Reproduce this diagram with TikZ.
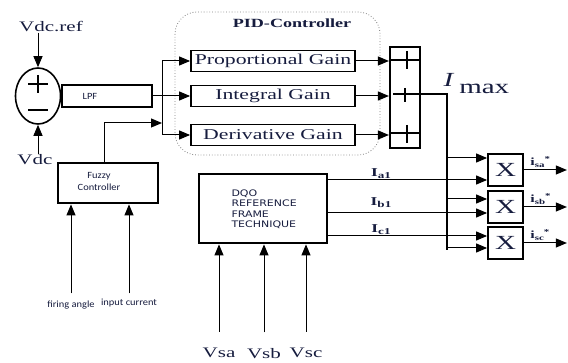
\documentclass[tikz,border=0pt]{standalone}
\usepackage{fontspec}
\setmainfont{Liberation Serif}
\newfontfamily\wserif[FakeStretch=1.45]{Liberation Serif}
\newfontfamily\csans[FakeStretch=1.1]{Carlito}
\newfontfamily\dsans[FakeStretch=1.22]{DejaVu Sans}
\usetikzlibrary{arrows.meta,shapes.geometric}
\definecolor{ink}{RGB}{22,28,62}
\newcommand{\fsz}[1]{\fontsize{#1}{#1}\selectfont}
\tikzset{
  blk/.style={draw,line width=1.8pt,inner sep=0pt},
  heavy/.style={blk,line width=2.8pt},
  gain/.style={blk,minimum width=164,minimum height=21,font=\wserif\fsz{15}},
  mult/.style={blk,minimum width=35,minimum height=32,font=\wserif\fsz{20}},
  sig/.style={-{Triangle[length=11pt,width=9pt]}},
  lbl/.style={inner sep=0pt,font=\wserif\fsz{14.5}},
  cur/.style={inner sep=0pt,font=\wserif\bfseries\fsz{12}},
  note/.style={inner sep=0pt,font=\csans\fsz{9.5}},
}
\begin{document}
\begin{tikzpicture}[x=1pt,y=-1pt,line width=1pt,every node/.append style={text=ink}]
\useasboundingbox (0,0) rectangle (568,363);
% PID group
\draw[gray,dotted,line width=0.8pt,rounded corners=22] (175,12) rectangle (380,155);
\node[inner sep=0pt,font=\wserif\bfseries\fsz{12.5}] (pidl) at (292,23) {PID-Controller};
% error summing point
\node[lbl] (vref) at (51,27) {Vdc.ref};
\node[draw,ellipse,line width=1.6pt,minimum width=45,minimum height=56,inner sep=0pt] (sum) at (38,96) {};
\draw[line width=2pt] (sum.center) ++(-10,-12) -- ++(20,0) (sum.center) ++(0,-21) -- ++(0,18);
\draw[line width=2.4pt] (sum.center) ++(-10,14) -- ++(20,0);
\node[lbl] (vdc) at (35,160) {Vdc};
\draw[sig] (sum.north |- vref.south) -- (sum.north);
\draw[sig] (sum.south |- vdc.north) -- (sum.south);
% filter
\node[heavy,minimum width=90,minimum height=22] (lpf) at (107,96) {};
\node[note,font=\csans\fsz{9.5}] (lpft) at (90,96) {LPF};
\draw (sum.east) -- (lpf.west);
% gains
\node[gain] (prop) at (273,61) {Proportional Gain};
\node[gain] (integ) at (273,96) {Integral Gain};
\node[gain] (deriv) at (273,135) {Derivative Gain};
% adder
\node[blk,line width=2.2pt,minimum width=30,minimum height=101] (sb) at (405,97.5) {};
\draw[line width=1.8pt] (sb.west |- 0,60) -- (sb.east |- 0,60) (sb.west |- 0,133) -- (sb.east |- 0,133);
\draw[line width=1.8pt] (407,51) -- (407,69) (405,88) -- (405,102) (407,125) -- (407,143);
\coordinate (br) at (162,96);
\draw (lpf.east) -- (br);
\draw (br |- prop.west) -- (br |- deriv.west);
\foreach \g in {prop,integ,deriv} {
  \draw[sig] (br |- \g.west) -- (\g.west);
  \draw[sig] (\g.east) -- (sb.west |- \g.east);
}
% current magnitude
\coordinate (imx) at (447,94);
\coordinate (imb) at (447,250);
\draw[line width=1.2pt] ([xshift=-12pt]sb.center |- imx) -- (imx) -- (imb);
\node[anchor=west,inner sep=0pt,font=\wserif\fsz{20}] (imaxl) at (443,84) {\textit{I}\hspace{5pt}\raisebox{-7pt}{max}};
% multipliers
\node[mult] (m1) at (505.5,170) {X};
\node[mult] (m2) at (505.5,207) {X};
\node[mult] (m3) at (505.5,243) {X};
\foreach \m/\y in {m1/158,m2/199,m3/248}
  \draw[sig] (imx |- 0,\y) -- (\m.west |- 0,\y);
% reference frame block
\node[heavy,minimum width=128,minimum height=69] (dqo) at (263,208.5) {};
\node[anchor=west,align=left,inner sep=0pt,font=\dsans\fontsize{9}{10.5}\selectfont] (dqot) at (231,209) {DQO\\REFERENCE\\FRAME\\TECHNIQUE};
\foreach \m/\y in {m1/180,m2/213,m3/236}
  \draw[sig] (dqo.east |- 0,\y) -- (\m.west |- 0,\y);
\node[cur] (ia) at (381,174) {I\raisebox{-2pt}{\fsz{9}a1}};
\node[cur] (ib) at (381,203) {I\raisebox{-2pt}{\fsz{9}b1}};
\node[cur] (ic) at (381,230) {I\raisebox{-2pt}{\fsz{9}c1}};
\foreach \m/\s in {m1/sa,m2/sb,m3/sc} {
  \draw[sig] (\m.east) -- ++(43,0);
  \node[cur,font=\wserif\bfseries\fsz{11},anchor=south west] (i\s) at ([xshift=6pt,yshift=2pt]\m.east) {i\raisebox{-2pt}{\fsz{7.5}\s}\raisebox{4pt}{\fsz{7.5}*}};
}
\node[lbl] (vsa) at (219,353) {Vsa};
\node[lbl] (vsb) at (264,354) {Vsb};
\node[lbl] (vsc) at (306,353) {Vsc};
\foreach \v in {vsa,vsb,vsc}
  \draw[sig] ([yshift=16pt]\v.north) -- (\v.north |- dqo.south);
% fuzzy block
\node[heavy,minimum width=100,minimum height=40] (fz) at (108,183) {};
\node[note,align=center,font=\csans\fontsize{9.5}{12}\selectfont] (fzt) at (99,181) {Fuzzy\\Controller};
\draw[sig] ([xshift=-4pt]fz.north) |- ([yshift=-27pt]br);
\node[note] (fa) at (71,305) {firing angle};
\node[note] (icur) at (129,303) {input current};
\draw[sig] ([yshift=7pt]fa.north) -- (fa.north |- fz.south);
\draw[sig] ([yshift=5pt]icur.north) -- (icur.north |- fz.south);
\end{tikzpicture}
\end{document}
